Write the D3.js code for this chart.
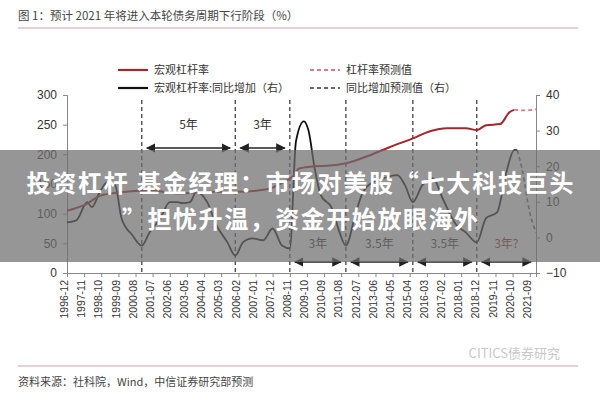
<!DOCTYPE html>
<html><head><meta charset="utf-8">
<script src="https://cdn.jsdelivr.net/npm/d3@7"></script>
<style>body{margin:0;background:#fff}svg{font-family:"Noto Sans CJK SC","DejaVu Sans",sans-serif}</style>
</head><body><div id="chart"></div>
<script>
const tickLabels = ['1996-12','1997-11','1998-10','1999-09','2000-08','2001-07','2002-06','2003-05','2004-04','2005-03','2006-02','2007-01','2007-12','2008-11','2009-10','2010-09','2011-08','2012-07','2013-06','2014-05','2015-04','2016-03','2017-02','2018-01','2018-12','2019-11','2020-10','2021-09'];

const leverageDates = ['1996-12','1998-01','1998-09','1999-10','2001-05','2002-12','2004-08','2006-03','2007-10','2008-06','2009-01','2009-05','2010-03','2011-01','2011-11','2013-02','2014-03','2015-06','2016-05','2017-04','2018-04','2018-11','2019-05','2020-02','2020-08','2020-11'];
const leverageValues = [105,117,130,136,139,134,137,137,142,152,163,176,180,181,185,198,212,227,239,244,244,241,249,251,271,275];
const leverageForecastDates = ['2020-11','2021-06','2022-01'];
const leverageForecastValues = [275,274,276];

const yoyDates = ['1996-12','1997-06','1998-01','1998-04','1998-09','1999-02','1999-07','1999-11','2000-06','2000-12','2001-05','2001-12','2002-06','2002-11','2003-02','2003-07','2003-11','2004-06','2004-12','2005-07','2005-12','2006-05','2006-11','2007-06','2007-12','2008-06','2008-11','2009-03','2009-08','2009-11','2010-03','2010-07','2011-02','2011-07','2011-11','2012-05','2012-09','2013-04','2013-11','2014-08','2015-01','2015-06','2015-12','2016-07','2017-01','2017-10','2018-04','2018-11','2019-05','2019-12','2020-06','2020-11','2021-01'];
const yoyValues = [4.2,4.8,9.9,8.5,12.7,15.5,14.6,5.4,0.6,-2.3,1.4,5.4,9.9,9.9,9.6,9.9,12.7,9.9,3.4,-1.4,-5.1,-1.4,-0.3,-0.8,2.5,-2.3,-3.1,27,32.6,30,19.4,11.8,8.2,1.4,-2.3,6.2,11.8,15.5,16.6,17.5,14.6,9.9,14.6,16.6,11,3.4,1.4,-1.4,5.4,7,18.3,24.5,24.5];
const yoyForecastDates = ['2021-01','2021-04','2021-09','2022-01'];
const yoyForecastValues = [24.5,19.4,7,1.4];

const cycleDates = ['2000-12','2005-12','2008-11','2011-11','2015-06','2018-11'];
const upperSpans = [['2000-12','2005-12','5年'],['2005-12','2008-11','3年']];
const lowerSpans = [['2008-11','2011-11','3年'],['2011-11','2015-06','3.5年'],['2015-06','2018-11','3.5年'],['2018-11','2022-01','3年?']];

const parse = d3.timeParse('%Y-%m');
const W = 600, H = 400;
const svg = d3.select('#chart').append('svg').attr('width', W).attr('height', H);

const x = d3.scaleTime().domain([parse('1996-12'), parse('2022-01')]).range([67, 536]);
const yL = d3.scaleLinear().domain([0, 300]).range([273, 95]);
const yR = d3.scaleLinear().domain([-10, 40]).range([273, 95]);

// title
svg.append('text').attr('x', 18).attr('y', 20).attr('font-size', 11.5).attr('fill', '#444')
    .text('图 1：预计 2021 年将进入本轮债务周期下行阶段（%）');
svg.append('line').attr('x1', 18).attr('x2', 578).attr('y1', 28).attr('y2', 28).attr('stroke', '#c9a6a6').attr('stroke-width', 1.2);

// axes
const axL = svg.append('g').attr('transform', 'translate(67,0)')
    .call(d3.axisLeft(yL).tickValues([0,50,100,150,200,250,300]).tickSize(4).tickPadding(6));
const axR = svg.append('g').attr('transform', 'translate(536,0)')
    .call(d3.axisRight(yR).tickValues([-10,0,10,20,30,40]).tickSize(4).tickPadding(6));
const axB = svg.append('g').attr('transform', 'translate(0,273)')
    .call(d3.axisBottom(x).tickValues(tickLabels.map(parse)).tickFormat(d3.timeFormat('%Y-%m')).tickSize(4));
axB.selectAll('text').attr('transform', 'rotate(-90)').attr('text-anchor', 'end')
    .attr('x', -7).attr('y', -3).attr('dy', '0.35em').attr('font-size', 10.5);
[axL, axR].forEach(a => a.selectAll('text').attr('font-size', 12));
[axL, axR, axB].forEach(a => {
    a.selectAll('path,line').attr('stroke', '#888');
    a.selectAll('text').attr('fill', '#333').attr('font-family', 'Liberation Sans, Arial, sans-serif');
});

// cycle dashed lines
svg.selectAll('.cyc').data(cycleDates).enter().append('line')
    .attr('x1', d => x(parse(d))).attr('x2', d => x(parse(d)))
    .attr('y1', 100).attr('y2', 273)
    .attr('stroke', '#333').attr('stroke-width', 1.2).attr('stroke-dasharray', '4,3');

svg.append('defs').append('marker').attr('id', 'ah').attr('viewBox', '0 0 10 10')
    .attr('refX', 9).attr('refY', 5).attr('markerWidth', 6).attr('markerHeight', 6).attr('orient', 'auto-start-reverse')
    .append('path').attr('d', 'M0,0L10,5L0,10z').attr('fill', '#222');

function spans(data, yArrow, yText) {
    data.forEach(([a, b, t]) => {
        const xa = x(parse(a)) + 5, xb = x(parse(b)) - 5;
        svg.append('line').attr('x1', xa).attr('x2', xb).attr('y1', yArrow).attr('y2', yArrow)
            .attr('stroke', '#222').attr('stroke-width', 1.6)
            .attr('marker-start', 'url(#ah)').attr('marker-end', 'url(#ah)');
        svg.append('text').attr('x', (xa + xb) / 2).attr('y', yText).attr('text-anchor', 'middle')
            .attr('font-size', 12).attr('fill', t.includes('?') ? '#8a2a2a' : '#333').text(t);
    });
}
spans(upperSpans, 148, 129);
spans(lowerSpans, 262, 248);

// lines
const lineL = d3.line().x(d => x(d[0])).y(d => yL(d[1])).curve(d3.curveMonotoneX);
const lineR = d3.line().x(d => x(d[0])).y(d => yR(d[1])).curve(d3.curveMonotoneX);
const zip = (ds, vs) => ds.map((d, i) => [parse(d), vs[i]]);

svg.append('path').attr('d', lineR(zip(yoyDates, yoyValues))).attr('fill', 'none').attr('stroke', '#111').attr('stroke-width', 1.8);
svg.append('path').attr('d', lineR(zip(yoyForecastDates, yoyForecastValues))).attr('fill', 'none').attr('stroke', '#666').attr('stroke-width', 1.6).attr('stroke-dasharray', '4,3');
svg.append('path').attr('d', lineL(zip(leverageDates, leverageValues))).attr('fill', 'none').attr('stroke', '#a3262a').attr('stroke-width', 2);
svg.append('path').attr('d', lineL(zip(leverageForecastDates, leverageForecastValues))).attr('fill', 'none').attr('stroke', '#d77a86').attr('stroke-width', 1.8).attr('stroke-dasharray', '4,3');

// legend
const legend = [
    [118, 70, '#a3262a', null, '宏观杠杆率'],
    [310, 70, '#d77a86', '4,3', '杠杆率预测值'],
    [118, 88, '#111', null, '宏观杠杆率:同比增加（右）'],
    [310, 88, '#666', '4,3', '同比增加预测值（右）']
];
legend.forEach(([lx, ly, c, dash, t]) => {
    svg.append('line').attr('x1', lx).attr('x2', lx + 30).attr('y1', ly).attr('y2', ly)
        .attr('stroke', c).attr('stroke-width', 2.2).attr('stroke-dasharray', dash);
    svg.append('text').attr('x', lx + 36).attr('y', ly + 4).attr('font-size', 11).attr('fill', '#333').text(t);
});

// footer
svg.append('text').attr('x', 560).attr('y', 358).attr('text-anchor', 'end').attr('font-size', 13)
    .attr('fill', '#c8c8c8').text('CITICS债券研究');
svg.append('line').attr('x1', 18).attr('x2', 578).attr('y1', 366).attr('y2', 366).attr('stroke', '#c9a6a6').attr('stroke-width', 1.2);
svg.append('text').attr('x', 18).attr('y', 386).attr('font-size', 11).attr('fill', '#444')
    .text('资料来源：社科院，Wind，中信证券研究部预测');

// overlay banner
const banner = svg.append('g');
banner.append('rect').attr('x', 0).attr('y', 150).attr('width', W).attr('height', 112).attr('fill', 'rgba(110,110,110,0.72)');
banner.append('text').attr('x', 300).attr('y', 192).attr('text-anchor', 'middle').attr('font-size', 24).attr('textLength', 547)
    .attr('font-weight', 'bold').attr('fill', '#fff').text('投资杠杆 基金经理：市场对美股“七大科技巨头');
banner.append('text').attr('x', 300).attr('y', 228).attr('text-anchor', 'middle').attr('font-size', 24).attr('textLength', 356)
    .attr('font-weight', 'bold').attr('fill', '#fff').text('”担忧升温，资金开始放眼海外');
</script></body></html>
